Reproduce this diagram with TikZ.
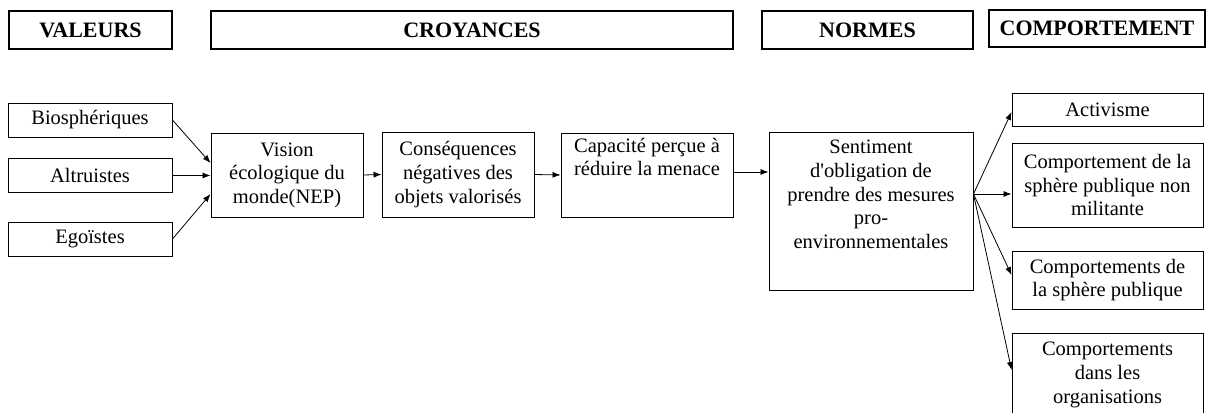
\documentclass[tikz,border=0pt]{standalone}
\usepackage{fontspec}
\setmainfont{Liberation Serif}[Ligatures=TeXOff]
\usetikzlibrary{arrows.meta}
\tikzset{
	titre/.style={draw, line width=1.3pt, inner sep=0pt, font=\fontsize{22}{26}\selectfont\bfseries},
	boite/.style={draw, line width=0.9pt, inner sep=0pt, align=center, font=\fontsize{20.5}{23.6}\selectfont},
	texte/.style={inner sep=0pt, align=center, font=\fontsize{20.5}{23.6}\selectfont},
	fleche/.style={-{Latex[length=8pt,width=6pt]}, line width=0.8pt}
}

\begin{document}
\begin{tikzpicture}[x=1pt, y=-1pt]
			%%%%% START %%%%%
			\useasboundingbox (0, 0) rectangle (1217, 412);
			\clip (0, 0) rectangle (1217, 412);
			
			\node[titre, minimum width=163pt, minimum height=38pt] (valeurs) at (90.5, 30) {VALEURS};
			\node[titre, minimum width=522pt, minimum height=38pt] (croyances) at (472, 30) {CROYANCES};
			\node[titre, minimum width=211pt, minimum height=38pt] (normes) at (867.5, 30) {NORMES};
			\node[titre, minimum width=216pt, minimum height=37pt] (comportement) at (1097, 28.5) {COMPORTEMENT};
			
			\node[boite, minimum width=164pt, minimum height=34pt] (bio) at (90, 120) {Biosphériques};
			\node[boite, minimum width=164pt, minimum height=34pt] (alt) at (90, 175.5) {Altruistes};
			\node[boite, minimum width=164pt, minimum height=34pt] (ego) at (90, 239) {Egoïstes};
			
			\node[boite, minimum width=152pt, minimum height=84pt] (nep) at (287, 175) {Vision\\écologique du\\monde(NEP)};
			\node[boite, minimum width=152pt, minimum height=85pt] (conseq) at (458, 174.5) {Conséquences\\négatives des\\objets valorisés};
			
			\node[boite, minimum width=172pt, minimum height=84pt] (capa) at (647, 175) {};
			\node[texte, anchor=north] (capatxt) at ([yshift=-5pt]capa.north) {Capacité perçue à\\réduire la menace};
			
			\node[boite, minimum width=204pt, minimum height=158pt] (sent) at (871, 211) {};
			\node[texte, anchor=north] (senttxt) at ([yshift=-8.5pt]sent.north) {Sentiment\\d'obligation de\\prendre des mesures\\pro-\\environnementales};
			
			\node[boite, minimum width=191pt, minimum height=33pt] (act) at (1107.5, 109.5) {Activisme};
			\node[boite, minimum width=191pt, minimum height=84pt] (nonmil) at (1107.5, 185) {Comportement de la\\sphère publique non\\militante};
			\node[boite, minimum width=191pt, minimum height=58pt] (sphere) at (1107.5, 280) {Comportements de\\la sphère publique};
			\node[boite, minimum width=191pt, minimum height=84pt] (orga) at (1107.5, 375) {Comportements\\dans les\\organisations};
			
			\draw[fleche] (bio.east) -- ([yshift=12pt]nep.west);
			\draw[fleche] (alt.east) -- (alt.east -| nep.west);
			\draw[fleche] (ego.east) -- ([yshift=-19pt]nep.west);
			\draw[fleche] (nep.east) -- (conseq.west);
			\draw[fleche] (conseq.east) -- (capa.west);
			\draw[fleche] ([yshift=3pt]capa.east) -- ([yshift=3pt]capa.east -| sent.west);
			
			\coordinate (fan) at ([yshift=17pt]sent.east);
			\draw[fleche] (fan) -- ([yshift=-2.5pt]act.west);
			\draw[fleche] (fan) -- (fan -| nonmil.west);
			\draw[fleche] (fan) -- ([yshift=5pt]sphere.west);
			\draw[fleche] (fan) -- ([yshift=5pt]orga.west);
			%%%%% END %%%%%
\end{tikzpicture}
\end{document}
